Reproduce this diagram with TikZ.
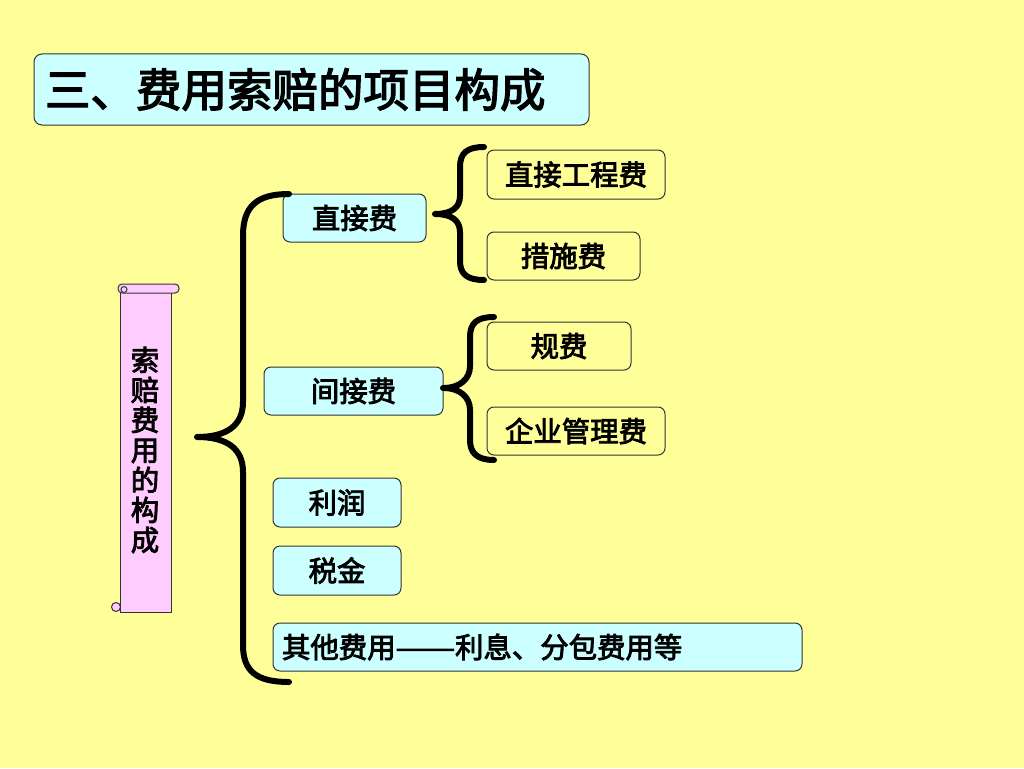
\documentclass[tikz,border=0pt]{standalone}
\usepackage{fontspec}
\newfontfamily\cjk{Noto Sans CJK SC}[FakeBold=3]
\definecolor{bgy}{HTML}{FFFF99}
\definecolor{cyanbox}{HTML}{CCFFFF}
\definecolor{pinkbox}{HTML}{FFCCFF}
\definecolor{edge}{HTML}{333333}
\tikzset{
  body/.style={font=\cjk\fontsize{28.4}{30}\selectfont},
  cbox/.style={body, draw=edge, line width=1pt, fill=cyanbox, rounded corners=7pt, inner sep=0pt},
  sbox/.style={body, draw=edge, line width=1pt, rounded corners=7pt, inner sep=0pt},
  brace/.style={draw=black, line width=6pt, line cap=round, line join=round},
  scrollst/.style={draw=edge, line width=1pt, fill=pinkbox},
}
\begin{document}
\begin{tikzpicture}[x=1pt,y=-1pt]
\fill[bgy] (0,0) rectangle (1024,768);
\useasboundingbox (0,0) rectangle (1024,768);

% title
\node[draw=edge, line width=1pt, fill=cyanbox, rounded corners=8pt, minimum height=71,
      text width=533, inner xsep=11pt, align=left, font=\cjk\fontsize{45.5}{48}\selectfont]
      (title) at (311.5,89.5) {三、费用索赔的项目构成};

% scroll
\draw[scrollst] (120,288) rectangle (171,612);
\draw[scrollst, rounded corners=4pt] (118,284) rectangle (179,293);
\draw[scrollst] (124,289.5) circle (3);
\draw[scrollst] (116,607) circle (4.5);
\node[body, align=center, inner sep=0pt] (scroll) at (145,450)
  {\fontsize{28.4}{28}\selectfont 索\\赔\\费\\用\\的\\构\\成};

% main boxes
\node[cbox, minimum width=143, minimum height=48] (zj) at (354.5,218) {直接费};
\node[cbox, minimum width=179, minimum height=48] (jj) at (353.5,391) {间接费};
\node[cbox, minimum width=128, minimum height=49] (lr) at (337,502.5) {利润};
\node[cbox, minimum width=128, minimum height=49] (sj) at (337,570.5) {税金};
\node[cbox, minimum width=529, minimum height=48, text width=511, inner xsep=9pt, align=left] (qt) at (537.5,647) {其他费用\scalebox{1.25}[1]{——}利息、分包费用等};

% sub boxes
\node[sbox, minimum width=178, minimum height=49] (zjgc) at (576,174.5) {直接工程费};
\node[sbox, minimum width=153, minimum height=48] (cs) at (563.5,256) {措施费};
\node[sbox, minimum width=144, minimum height=48] (gf) at (559,346) {规费};
\node[sbox, minimum width=178, minimum height=48] (qy) at (576,431) {企业管理费};

% big brace
\draw[brace] (289,194) .. controls (256,194) and (243,207) .. (243,236) -- (243,402)
  .. controls (243,426) and (226,437) .. (197,437)
  .. controls (226,437) and (243,448) .. (243,472) -- (243,645)
  .. controls (243,671) and (256,682) .. (289,682);

% brace for 直接费
\draw[brace] (484,147) .. controls (467,147) and (460,153) .. (460,167) -- (460,196)
  .. controls (460,208) and (451,214) .. (435,214)
  .. controls (451,214) and (460,220) .. (460,232) -- (460,261)
  .. controls (460,274) and (467,280) .. (484,280);

% brace for 间接费
\draw[brace] (494,317) .. controls (477,317) and (470,323) .. (470,337) -- (470,366)
  .. controls (470,379) and (460,388) .. (443,388)
  .. controls (460,388) and (470,397) .. (470,410) -- (470,440)
  .. controls (470,453) and (477,460) .. (494,460);
\end{tikzpicture}
\end{document}
